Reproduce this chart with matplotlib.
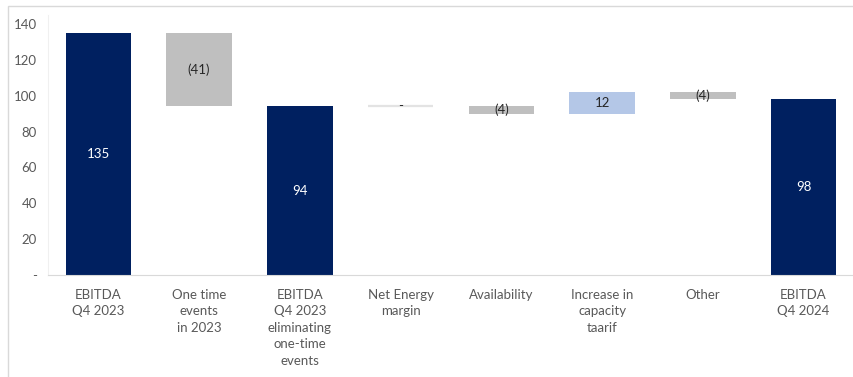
import matplotlib
matplotlib.use("Agg")
import matplotlib.pyplot as plt
from matplotlib.patches import Rectangle

# Waterfall data (EUR m)
categories = [
    "EBITDA\nQ4 2023",
    "One time\nevents\nin 2023",
    "EBITDA\nQ4 2023\neliminating\none-time\nevents",
    "Net Energy\nmargin",
    "Availability",
    "Increase in\ncapacity\ntaarif",
    "Other",
    "EBITDA\nQ4 2024",
]
values = [135, -41, 94, 0, -4, 12, -4, 98]
is_total = [True, False, True, False, False, False, False, True]
value_labels = ["135", "(41)", "94", "-", "(4)", "12", "(4)", "98"]
y_ticks = [0, 20, 40, 60, 80, 100, 120, 140]
y_tick_labels = ["-", "20", "40", "60", "80", "100", "120", "140"]

NAVY = "#002060"
GREY = "#bfbfbf"
LIGHT_BLUE = "#b4c7e7"
ZERO_LINE = "#d9d9d9"
TEXT = "#595959"
FS = 9.5

plt.rcParams["font.family"] = ["Lato", "DejaVu Sans"]

fig = plt.figure(figsize=(8.54, 3.77), dpi=100)
ax = fig.add_axes([48 / 854, 1 - 275 / 377, 806 / 854, 260 / 377])

# running level of the waterfall
bottoms, heights, colors = [], [], []
level = 0
for v, total in zip(values, is_total):
    if total:
        bottoms.append(0)
        heights.append(v)
        colors.append(NAVY)
        level = v
    else:
        if v >= 0:
            bottoms.append(level)
            heights.append(v)
            colors.append(LIGHT_BLUE)
        else:
            bottoms.append(level + v)
            heights.append(-v)
            colors.append(GREY)
        level += v

x = list(range(len(categories)))
bars = ax.bar(x, heights, bottom=bottoms, width=0.65, color=colors, zorder=2)

# zero-change step drawn as a thin line
for i, h in enumerate(heights):
    if h == 0:
        ax.plot([i - 0.325, i + 0.325], [bottoms[i], bottoms[i]],
                color="#e3e3e3", lw=1.6, solid_capstyle="butt", zorder=2)

for i, (b, h, lab) in enumerate(zip(bottoms, heights, value_labels)):
    col = "white" if is_total[i] else "#262626"
    ax.text(i, b + h / 2, lab, ha="center", va="center", fontsize=FS,
            color=col, zorder=3)

ax.set_xlim(-0.5, len(categories) - 0.5)
ax.set_ylim(0, 145)
ax.set_yticks(y_ticks)
ax.set_yticklabels(y_tick_labels)
ax.set_xticks(x)
ax.set_xticklabels(categories, linespacing=1.45)
ax.tick_params(axis="both", length=0, colors=TEXT, labelsize=FS)
ax.tick_params(axis="x", pad=10)
ax.tick_params(axis="y", pad=8)

for side in ["top", "right"]:
    ax.spines[side].set_visible(False)
ax.spines["left"].set_color("#f0f0f0")
ax.spines["bottom"].set_color(ZERO_LINE)

# chart-area frame
fig.patches.append(Rectangle((8 / 854, -0.1), 1.2, 1.1 - 6 / 377,
                             transform=fig.transFigure, fill=False,
                             edgecolor="#d9d9d9", lw=1))

fig.savefig("out.png", dpi=100)
